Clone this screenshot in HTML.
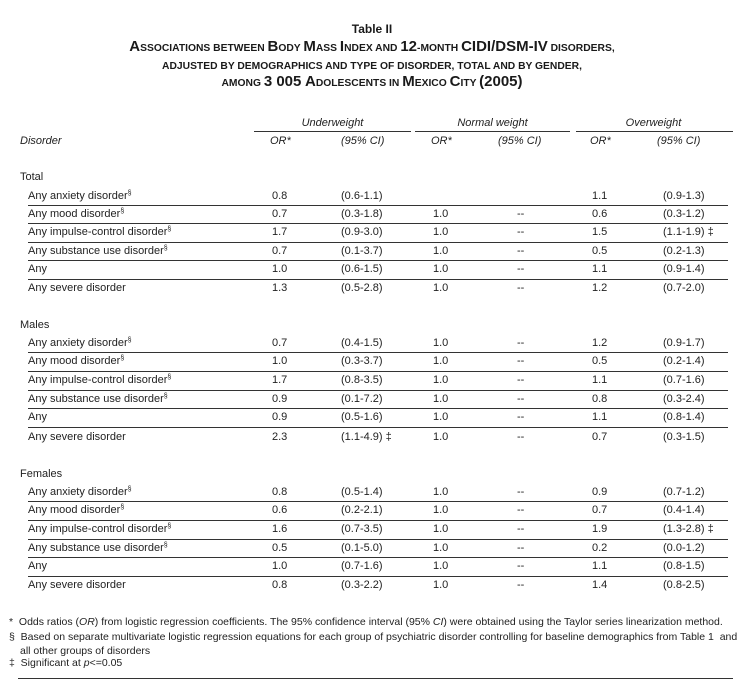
<!DOCTYPE html>
<html><head><meta charset="utf-8"><style>
body{margin:0;background:#fff;}
#p{position:relative;width:744px;height:692px;overflow:hidden;font-family:"Liberation Sans",sans-serif;color:#222;font-size:11px;}
.t{position:absolute;white-space:nowrap;line-height:14px;height:14px;}
.c{text-align:center;}
.h{position:absolute;height:1px;background:#333;}
.i{font-style:italic;}
sup{font-size:7px;vertical-align:4px;line-height:0;}
.title{position:absolute;left:0;width:744px;text-align:center;font-weight:bold;font-size:15px;line-height:17px;white-space:nowrap;color:#1a1a1a;}
.title s{text-decoration:none;font-size:10.3px;}
</style></head><body><div id="p">
<div class="title" style="top:21px;font-size:12px">Table II</div>
<div class="title" style="top:38px">A<s>SSOCIATIONS BETWEEN </s>B<s>ODY </s>M<s>ASS </s>I<s>NDEX AND </s>12<s>-MONTH </s>CIDI/DSM-IV<s> DISORDERS,</s></div>
<div class="title" style="top:56px"><s>ADJUSTED BY DEMOGRAPHICS AND TYPE OF DISORDER, TOTAL AND BY GENDER,</s></div>
<div class="title" style="top:73px"><s>AMONG </s>3 005 A<s>DOLESCENTS IN </s>M<s>EXICO </s>C<s>ITY </s>(2005)</div>

<div class="t i c" style="left:254px;width:157px;top:116px">Underweight</div>
<div class="t i c" style="left:415px;width:155px;top:116px">Normal weight</div>
<div class="t i c" style="left:576px;width:155px;top:116px">Overweight</div>
<div class="h" style="left:254px;width:157px;top:131px"></div>
<div class="h" style="left:415px;width:155px;top:131px"></div>
<div class="h" style="left:576px;width:157px;top:131px"></div>
<div class="t i" style="left:20px;top:134px">Disorder</div>
<div class="t i" style="left:270px;top:134px">OR*</div>
<div class="t i" style="left:341px;top:134px">(95% CI)</div>
<div class="t i" style="left:431px;top:134px">OR*</div>
<div class="t i" style="left:498px;top:134px">(95% CI)</div>
<div class="t i" style="left:590px;top:134px">OR*</div>
<div class="t i" style="left:657px;top:134px">(95% CI)</div>

<div id="rows"></div>

<div class="t" style="left:9px;top:615px;font-size:10.5px">*&nbsp; Odds ratios (<i>OR</i>) from logistic regression coefficients. The 95% confidence interval (95% <i>CI</i>) were obtained using the Taylor series linearization method.</div>
<div class="t" style="left:9px;top:630px;font-size:10.5px">§&nbsp; Based on separate multivariate logistic regression equations for each group of psychiatric disorder controlling for baseline demographics from Table 1&nbsp; and</div>
<div class="t" style="left:20px;top:644px;font-size:10.5px">all other groups of disorders</div>
<div class="t" style="left:9px;top:656px;font-size:10.5px">‡&nbsp; Significant at <i>p</i>&lt;=0.05</div>
<div class="h" style="left:18px;width:715px;top:678px"></div>
</div>
<script>
var S='<sup>§</sup>';
var groups=[
["Total",177,[196,214,232,251,269,288],[
["Any anxiety disorder"+S,"0.8","(0.6-1.1)","","","1.1","(0.9-1.3)"],
["Any mood disorder"+S,"0.7","(0.3-1.8)","1.0","--","0.6","(0.3-1.2)"],
["Any impulse-control disorder"+S,"1.7","(0.9-3.0)","1.0","--","1.5","(1.1-1.9) ‡"],
["Any substance use disorder"+S,"0.7","(0.1-3.7)","1.0","--","0.5","(0.2-1.3)"],
["Any","1.0","(0.6-1.5)","1.0","--","1.1","(0.9-1.4)"],
["Any severe disorder","1.3","(0.5-2.8)","1.0","--","1.2","(0.7-2.0)"]]],
["Males",325,[343,361,380,399,417,437],[
["Any anxiety disorder"+S,"0.7","(0.4-1.5)","1.0","--","1.2","(0.9-1.7)"],
["Any mood disorder"+S,"1.0","(0.3-3.7)","1.0","--","0.5","(0.2-1.4)"],
["Any impulse-control disorder"+S,"1.7","(0.8-3.5)","1.0","--","1.1","(0.7-1.6)"],
["Any substance use disorder"+S,"0.9","(0.1-7.2)","1.0","--","0.8","(0.3-2.4)"],
["Any","0.9","(0.5-1.6)","1.0","--","1.1","(0.8-1.4)"],
["Any severe disorder","2.3","(1.1-4.9) ‡","1.0","--","0.7","(0.3-1.5)"]]],
["Females",474,[492,510,529,548,566,585],[
["Any anxiety disorder"+S,"0.8","(0.5-1.4)","1.0","--","0.9","(0.7-1.2)"],
["Any mood disorder"+S,"0.6","(0.2-2.1)","1.0","--","0.7","(0.4-1.4)"],
["Any impulse-control disorder"+S,"1.6","(0.7-3.5)","1.0","--","1.9","(1.3-2.8) ‡"],
["Any substance use disorder"+S,"0.5","(0.1-5.0)","1.0","--","0.2","(0.0-1.2)"],
["Any","1.0","(0.7-1.6)","1.0","--","1.1","(0.8-1.5)"],
["Any severe disorder","0.8","(0.3-2.2)","1.0","--","1.4","(0.8-2.5)"]]]];
var xs=[28,272,341,433,517,592,663],h='';
groups.forEach(function(g){
 h+='<div class="t" style="left:20px;top:'+(g[1]-7)+'px">'+g[0]+'</div>';
 g[3].forEach(function(r,i){var y=g[2][i];
  r.forEach(function(v,j){h+='<div class="t" style="left:'+xs[j]+'px;top:'+(y-7)+'px">'+v+'</div>';});
  if(i<5){var ly=Math.round((y+g[2][i+1])/2);h+='<div class="h" style="left:28px;width:700px;top:'+ly+'px"></div>';}
 });
});
document.getElementById('rows').innerHTML=h;
</script>
</body></html>
